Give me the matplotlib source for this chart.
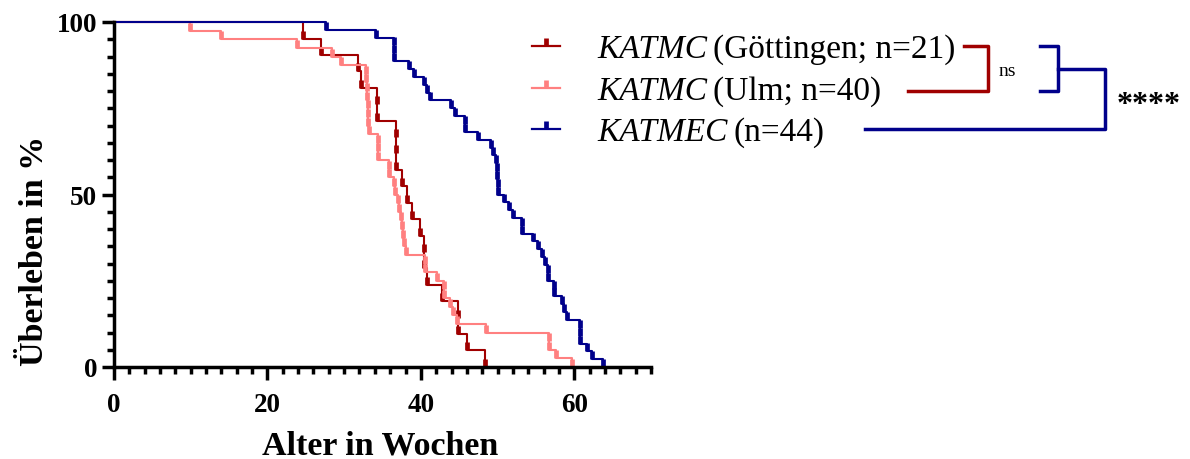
import numpy as np
import matplotlib.pyplot as plt
from matplotlib.path import Path

plt.rcParams['font.family'] = 'serif'
plt.rcParams['font.serif'] = ['Liberation Serif', 'DejaVu Serif']

# Kaplan-Meier event times (weeks) and survival after each event (%)
gott_t = [24.6, 26.95, 31.8, 32.2, 34.25, 34.25, 36.7, 36.7, 36.7, 37.5, 38.2,
          38.8, 39.9, 40.4, 40.45, 40.8, 42.7, 44.9, 44.9, 46.0, 48.4]
gott_s = [95.2, 90.5, 85.7, 81.0, 76.2, 71.4, 66.7, 61.9, 57.1, 52.4, 47.6,
          42.9, 38.1, 33.3, 28.6, 23.8, 19.0, 14.3, 9.5, 4.8, 0.0]

ulm_t = [9.9, 13.9, 23.8, 28.4, 29.55, 32.85, 32.9, 32.95, 33.0, 33.05, 33.1,
         33.15, 33.2, 34.35, 34.35, 34.35, 35.85, 35.85, 36.55, 36.6, 37.0,
         37.1, 37.35, 37.6, 37.7, 37.8, 38.0, 40.5, 40.5, 42.1, 43.0, 43.0,
         43.8, 44.2, 44.7, 48.5, 56.65, 56.65, 57.6, 59.75]
ulm_s = [97.5, 95.0, 92.5, 90.0, 87.5, 85.0, 82.5, 80.0, 77.5, 75.0, 72.5,
         70.0, 67.5, 65.0, 62.5, 60.0, 57.5, 55.0, 52.5, 50.0, 47.5, 45.0,
         42.5, 40.0, 37.5, 35.0, 32.5, 30.0, 27.5, 25.0, 22.5, 20.0, 17.5,
         15.0, 12.5, 10.0, 7.5, 5.0, 2.5, 0.0]

katmec_t = [27.7, 34.15, 36.5, 36.5, 36.5, 38.4, 39.15, 40.4, 40.75, 41.2,
            43.9, 44.45, 45.75, 45.75, 47.45, 49.1, 49.45, 49.75, 49.9, 49.9,
            50.1, 50.1, 50.85, 51.55, 52.0, 53.15, 53.15, 54.6, 55.3, 55.75,
            56.2, 56.6, 56.6, 57.3, 57.3, 58.35, 58.65, 59.0, 60.75, 60.75,
            60.75, 61.7, 62.3, 63.7]
katmec_s = [97.7, 95.5, 93.2, 90.9, 88.6, 86.4, 84.1, 81.8, 79.5, 77.3, 75.0,
            72.7, 70.5, 68.2, 65.9, 63.6, 61.4, 59.1, 56.8, 54.5, 52.3, 50.0,
            47.7, 45.5, 43.2, 40.9, 38.6, 36.4, 34.1, 31.8, 29.5, 27.3, 25.0,
            22.7, 20.5, 18.2, 15.9, 13.6, 11.4, 9.1, 6.8, 4.5, 2.3, 0.0]

names = ['KATMC', 'KATMC', 'KATMEC']
extras = ['(Göttingen; n=21)', '(Ulm; n=40)', '(n=44)']
colors = ['#A00000', '#FF8080', '#00008B']
x_ticks = [0, 20, 40, 60]
y_ticks = [0, 50, 100]

tick = Path([(0, 0), (0, 1)], [Path.MOVETO, Path.LINETO])

fig = plt.figure(figsize=(11.9, 4.6), dpi=100)
ax = fig.add_axes([114 / 1190, 92 / 460, (651 - 114) / 1190, 0.75])

for t, s, c in zip([gott_t, ulm_t, katmec_t], [gott_s, ulm_s, katmec_s], colors):
    ax.step(np.r_[0, t], np.r_[100, s], where='post', color=c, lw=1.5,
            clip_on=False)
    ax.plot(t, s, ls='none', marker=tick, ms=11, mew=3.4, color=c,
            clip_on=False)

ax.set_xlim(0, 70)
ax.set_ylim(0, 100)
for side in ['top', 'right']:
    ax.spines[side].set_visible(False)
for side in ['left', 'bottom']:
    ax.spines[side].set_linewidth(2.5)
ax.set_xticks(x_ticks, labels=[str(v) for v in x_ticks], fontsize=19.5,
              fontweight='bold')
ax.set_yticks(y_ticks, labels=[str(v) for v in y_ticks], fontsize=19.5,
              fontweight='bold')
ax.set_xticks(np.arange(0, 71, 2), minor=True)
ax.set_yticks(np.arange(0, 101, 5), minor=True)
ax.tick_params(which='major', length=9, width=2.5)
ax.tick_params(which='minor', length=5, width=2.5)
ax.tick_params(axis='x', which='major', pad=9)
ax.tick_params(axis='y', which='major', pad=3)

# overlay in pixel coordinates for labels, legend and brackets
ov = fig.add_axes([0, 0, 1, 1], facecolor='none')
ov.set_xlim(0, 1190)
ov.set_ylim(460, 0)
ov.axis('off')

ov.text(380, 446, 'Alter in Wochen', fontsize=24.5, fontweight='bold',
        ha='center', va='center')
ov.text(35, 251, 'Überleben in %', fontsize=24.5, fontweight='bold',
        ha='center', va='center', rotation=90)

rows_y = [47, 89, 130]
fig.canvas.draw()
renderer = fig.canvas.get_renderer()
inv = ov.transData.inverted()
for name, extra, c, y in zip(names, extras, colors, rows_y):
    ov.plot([532, 560], [y, y], color=c, lw=1.6)
    ov.plot([546], [y], marker=tick, ms=11, mew=3.4, color=c)
    it = ov.text(597, y + 11, name, fontsize=24, style='italic',
                 ha='left', va='baseline')
    bb = it.get_window_extent(renderer)
    x1 = inv.transform((bb.x1, bb.y0))[0]
    ov.text(x1 + 6, y + 11, extra, fontsize=24, ha='left', va='baseline')

ov.plot([964, 988, 988, 908], [47, 47, 92, 92], color=colors[0], lw=2.5)
ov.plot([1040, 1058, 1058, 1040], [47, 47, 92, 92], color=colors[2], lw=2.5)
ov.plot([1058, 1105, 1105, 865], [70, 70, 130, 130], color=colors[2], lw=2.5)
ov.text(999, 72, 'ns', fontsize=14, ha='left', va='center')
ov.text(1117, 105, '****', fontsize=23, fontweight='bold', ha='left',
        va='center')

fig.savefig('out.png', dpi=100)
